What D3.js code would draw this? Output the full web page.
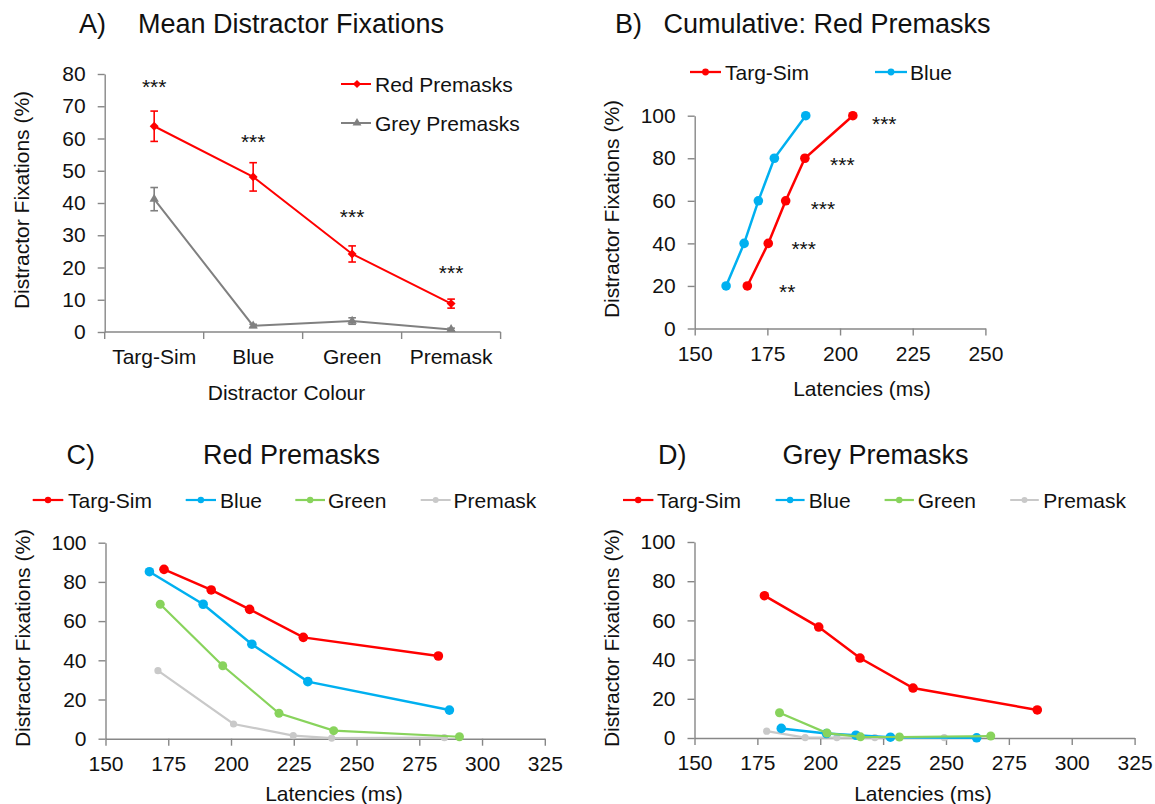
<!DOCTYPE html>
<html><head><meta charset="utf-8">
<script src="https://cdn.jsdelivr.net/npm/d3@7"></script>
<style>body{margin:0;background:#fff}text{font-family:"Liberation Sans",Arial,sans-serif;fill:#111}</style>
</head><body><svg id="c" width="1155" height="804"></svg>
<script>
// ---------- Panel A data ----------
const catsA = ["Targ-Sim", "Blue", "Green", "Premask"];
const redMeanA = [63.8, 48.1, 24.2, 8.8];
const redErrA = [4.7, 4.4, 2.5, 1.4];
const greyMeanA = [41.2, 1.9, 3.4, 0.8];
const greyErrA = [3.6, 0.5, 1.0, 0.4];
const sigA = ["***", "***", "***", "***"];
const sigAY = [77.5, 60.5, 37.2, 19.8];
const yTicksA = [0, 10, 20, 30, 40, 50, 60, 70, 80];
const seriesA = ["Red Premasks", "Grey Premasks"];

// ---------- Panel B data ----------
const cumLevels = [20, 40, 60, 80, 100];
const cumTargSim = [168.1, 175.3, 181.3, 187.9, 204.4];
const cumBlue = [160.8, 167.0, 171.9, 177.4, 188.2];
const sigB = ["**", "***", "***", "***", "***"];
const sigBX = [181.8, 187.5, 194.1, 200.8, 215.2];
const sigBY = [19.6, 39.7, 58.5, 79.2, 98.4];
const xTicksB = [150, 175, 200, 225, 250];
const yTicksPct = [0, 20, 40, 60, 80, 100];
const seriesB = ["Targ-Sim", "Blue"];

// ---------- Panel C data (Red premasks) ----------
const cTargX = [173.3, 192.1, 207.4, 228.8, 282.6];
const cTargY = [86.4, 75.9, 66.0, 51.7, 42.2];
const cBlueX = [167.5, 188.9, 208.3, 230.6, 287.0];
const cBlueY = [85.2, 68.6, 48.2, 29.1, 14.6];
const cGreenX = [171.8, 196.7, 219.1, 240.9, 291.0];
const cGreenY = [68.6, 37.2, 13.0, 4.1, 1.0];
const cPreX = [170.9, 201.0, 224.8, 240.1, 285.0];
const cPreY = [34.7, 7.5, 1.6, 0.3, 0.5];

// ---------- Panel D data (Grey premasks) ----------
const dTargX = [177.8, 199.4, 215.8, 236.9, 286.3];
const dTargY = [72.6, 56.6, 40.8, 25.5, 14.3];
const dBlueX = [184.5, 202.5, 214.2, 227.9, 262.2];
const dBlueY = [4.9, 2.3, 1.4, 0.4, 0.1];
const dGreenX = [183.8, 202.7, 216.0, 231.5, 267.8];
const dGreenY = [12.9, 2.5, 0.6, 0.5, 1.0];
const dPreX = [178.7, 194.0, 206.6, 221.7, 249.3];
const dPreY = [3.5, 0.2, 0.2, 0.2, 0.2];

const xTicksCD = [150, 175, 200, 225, 250, 275, 300, 325];
const seriesCD = ["Targ-Sim", "Blue", "Green", "Premask"];

// ---------- styles ----------
const RED = "#ff0000", BLUE = "#00b0f0", GREEN = "#88d35c", LGREY = "#c9c9c9", DGREY = "#808080";
const AXC = "#878787";
const FS = 21, FT = 27;
const svg = d3.select("#c");
svg.append("rect").attr("width", 1155).attr("height", 804).attr("fill", "#fff");

function styleAxis(g) {
  g.selectAll(".domain").attr("stroke", AXC).attr("stroke-width", 1.4);
  g.selectAll(".tick line").attr("stroke", AXC).attr("stroke-width", 1.4);
  g.selectAll(".tick text").attr("font-size", FS).attr("fill", "#111")
    .attr("font-family", '"Liberation Sans",Arial,sans-serif');
}
function txt(x, y, s, size, anchor, rot) {
  const t = svg.append("text").attr("x", x).attr("y", y).attr("font-size", size)
    .attr("text-anchor", anchor || "start").text(s);
  if (rot) t.attr("transform", `rotate(${rot},${x},${y})`).attr("dominant-baseline", "middle");
  return t;
}

// ================= Panel A =================
{
  const x = d3.scaleBand(catsA, [104.7, 500.6]);
  const y = d3.scaleLinear([0, 80], [332, 74]);
  const cx = c => x(c) + x.bandwidth() / 2;
  const gy = svg.append("g").attr("transform", "translate(104.7,0)")
    .call(d3.axisLeft(y).tickValues(yTicksA).tickSize(7).tickPadding(12).tickSizeOuter(0));
  styleAxis(gy);
  const gx = svg.append("g").attr("transform", "translate(0,332)")
    .call(d3.axisBottom(x).tickSize(0).tickPadding(17.5));
  styleAxis(gx);
  gx.select(".domain").attr("d", `M${x.range()[0]},0H${x.range()[1]}`);
  const bounds = catsA.map(c => x(c)).concat([x(catsA[catsA.length - 1]) + x.bandwidth()]);
  gx.selectAll(".bt").data(bounds).join("line").attr("x1", d => d).attr("x2", d => d)
    .attr("y1", 0).attr("y2", 7).attr("stroke", AXC).attr("stroke-width", 1.4);

  const drawSeries = (means, errs, color, sym, rot, size) => {
    svg.append("path").datum(means)
      .attr("d", d3.line().x((d, i) => cx(catsA[i])).y(d => y(d)))
      .attr("fill", "none").attr("stroke", color).attr("stroke-width", 2);
    means.forEach((m, i) => {
      const X = cx(catsA[i]);
      svg.append("line").attr("x1", X).attr("x2", X).attr("y1", y(m + errs[i])).attr("y2", y(m - errs[i]))
        .attr("stroke", color).attr("stroke-width", 1.6);
      [m + errs[i], m - errs[i]].forEach(v => svg.append("line").attr("x1", X - 3.8).attr("x2", X + 3.8)
        .attr("y1", y(v)).attr("y2", y(v)).attr("stroke", color).attr("stroke-width", 1.6));
      svg.append("path").attr("d", d3.symbol(sym, size)())
        .attr("transform", `translate(${X},${y(m)}) rotate(${rot})`).attr("fill", color);
    });
  };
  drawSeries(greyMeanA, greyErrA, DGREY, d3.symbolTriangle, 0, 38);
  drawSeries(redMeanA, redErrA, RED, d3.symbolSquare, 45, 40);
  sigA.forEach((s, i) => txt(cx(catsA[i]), y(sigAY[i]) + 12, s, FS, "middle"));

  // legend
  [[RED, d3.symbolSquare, 45, 84], [DGREY, d3.symbolTriangle, 0, 123]].forEach(([c, sym, rot, ly], i) => {
    svg.append("line").attr("x1", 341).attr("x2", 371).attr("y1", ly).attr("y2", ly).attr("stroke", c).attr("stroke-width", 2);
    svg.append("path").attr("d", d3.symbol(sym, 34)()).attr("transform", `translate(357,${ly}) rotate(${rot})`).attr("fill", c);
    txt(375, ly + 7.5, seriesA[i], FS);
  });
  txt(79, 33, "A)", FT);
  txt(138, 33, "Mean Distractor Fixations", FT);
  txt(23, 200, "Distractor Fixations (%)", FS, "middle", -90);
  txt(286.5, 399.5, "Distractor Colour", FS, "middle");
}

// ================= Latency panels helper =================
function latPanel(xr, yr, xdom, xticks) {
  const x = d3.scaleLinear(xdom, xr);
  const y = d3.scaleLinear([0, 100], yr);
  const gy = svg.append("g").attr("transform", `translate(${xr[0]},0)`)
    .call(d3.axisLeft(y).tickValues(yTicksPct).tickSize(7).tickPadding(12).tickSizeOuter(0));
  styleAxis(gy);
  const gx = svg.append("g").attr("transform", `translate(0,${yr[0]})`)
    .call(d3.axisBottom(x).tickValues(xticks).tickSize(7).tickPadding(10.5).tickSizeOuter(0));
  styleAxis(gx);
  return { x, y };
}
function drawLine(sc, xs, ys, color, w, r) {
  const pts = xs.map((v, i) => [v, ys[i]]);
  svg.append("path").datum(pts)
    .attr("d", d3.line().x(d => sc.x(d[0])).y(d => sc.y(d[1])))
    .attr("fill", "none").attr("stroke", color).attr("stroke-width", w);
  svg.selectAll(null).data(pts).join("circle")
    .attr("cx", d => sc.x(d[0])).attr("cy", d => sc.y(d[1])).attr("r", r).attr("fill", color);
}
function legendItem(x1, x2, tx, ly, color, label, r, w) {
  svg.append("line").attr("x1", x1).attr("x2", x2).attr("y1", ly).attr("y2", ly).attr("stroke", color).attr("stroke-width", w);
  svg.append("circle").attr("cx", (x1 + x2) / 2).attr("cy", ly).attr("r", r).attr("fill", color);
  txt(tx, ly + 7.5, label, FS);
}

// ================= Panel B =================
{
  const sc = latPanel([694.7, 985.4], [328.5, 115.7], [150, 250], xTicksB);
  drawLine(sc, cumBlue, cumLevels, BLUE, 2.5, 4.8);
  drawLine(sc, cumTargSim, cumLevels, RED, 2.5, 4.8);
  sigB.forEach((s, i) => txt(sc.x(sigBX[i]), sc.y(sigBY[i]) + 12, s, FS, "middle"));
  legendItem(690, 721, 725, 72, RED, seriesB[0], 3.4, 2.3);
  legendItem(875, 907, 910, 72, BLUE, seriesB[1], 3.4, 2.3);
  txt(615, 33, "B)", FT);
  txt(663.5, 33, "Cumulative: Red Premasks", FT);
  txt(613, 209, "Distractor Fixations (%)", FS, "middle", -90);
  txt(862, 395.5, "Latencies (ms)", FS, "middle");
}

// ================= Panel C =================
{
  const sc = latPanel([105.5, 544.8], [738.7, 542.7], [150, 325], xTicksCD);
  drawLine(sc, cPreX, cPreY, LGREY, 2.2, 3.6);
  drawLine(sc, cGreenX, cGreenY, GREEN, 2.2, 4.5);
  drawLine(sc, cBlueX, cBlueY, BLUE, 2.5, 4.8);
  drawLine(sc, cTargX, cTargY, RED, 2.5, 4.8);
  legendItem(32.7, 63.3, 68, 500, RED, seriesCD[0], 3.2, 2.2);
  legendItem(185.7, 216, 220, 500, BLUE, seriesCD[1], 3.2, 2.2);
  legendItem(295.3, 325, 328, 500, GREEN, seriesCD[2], 3.2, 2.2);
  legendItem(420.7, 450.7, 453.5, 500, LGREY, seriesCD[3], 3, 2);
  txt(66.5, 464, "C)", FT);
  txt(203, 464, "Red Premasks", FT);
  txt(24, 638, "Distractor Fixations (%)", FS, "middle", -90);
  txt(334, 800.5, "Latencies (ms)", FS, "middle");
}

// ================= Panel D =================
{
  const sc = latPanel([694.5, 1134.6], [738, 542], [150, 325], xTicksCD);
  drawLine(sc, dPreX, dPreY, LGREY, 2.2, 3.6);
  drawLine(sc, dBlueX, dBlueY, BLUE, 2.5, 4.8);
  drawLine(sc, dGreenX, dGreenY, GREEN, 2.2, 4.5);
  drawLine(sc, dTargX, dTargY, RED, 2.5, 4.8);
  legendItem(623, 653.4, 657, 500, RED, seriesCD[0], 3.2, 2.2);
  legendItem(775.6, 804.6, 808.7, 500, BLUE, seriesCD[1], 3.2, 2.2);
  legendItem(884.6, 913.9, 917.7, 500, GREEN, seriesCD[2], 3.2, 2.2);
  legendItem(1010.2, 1038.8, 1043.2, 500, LGREY, seriesCD[3], 3, 2);
  txt(658, 464, "D)", FT);
  txt(782.5, 464, "Grey Premasks", FT);
  txt(613, 638, "Distractor Fixations (%)", FS, "middle", -90);
  txt(923, 800.5, "Latencies (ms)", FS, "middle");
}
</script></body></html>
